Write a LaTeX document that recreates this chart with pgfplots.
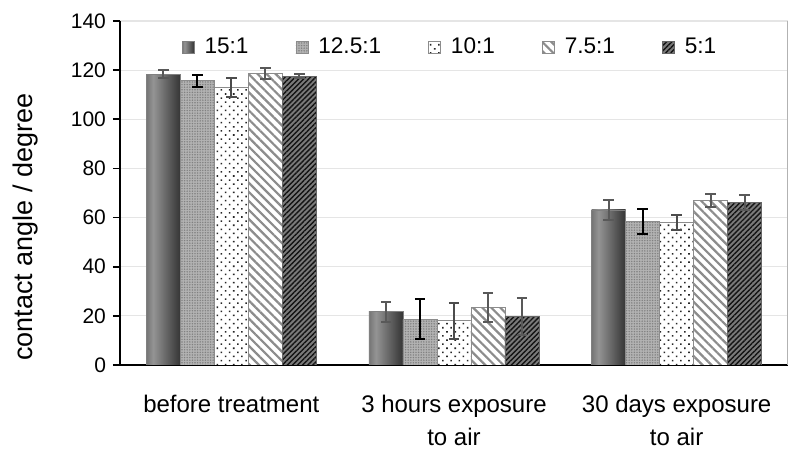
\documentclass[border=0pt]{standalone}
\usepackage{fontspec}
\setmainfont{Liberation Sans}
\usepackage{pgfplots}
\pgfplotsset{compat=1.18}
\usetikzlibrary{patterns.meta}
\pgfdeclarehorizontalshading{barshade}{100bp}{color(0bp)=(black!80); color(12bp)=(black!70); color(35bp)=(black!42); color(70bp)=(black!75); color(88bp)=(black!88); color(100bp)=(black!70)}
\pgfplotsset{
  eb/.style={error bars/y dir=both, error bars/y explicit,
    error bars/error bar style={line width=1pt, draw=#1},
    error bars/error mark options={rotate=90, mark size=2.6pt, line width=1pt, draw=#1}},
  s1/.style={draw=black!50, line width=0.4pt, shade, shading=barshade, eb=black!65, bar shift=-34pt},
}
\begin{document}
\begin{tikzpicture}
\path[use as bounding box] (0,0) rectangle (400pt,229.5pt);
\begin{axis}[
  at={(60pt,47pt)}, anchor=south west,
  scale only axis, width=334pt, height=172pt,
  ybar=0pt, bar width=17pt,
  xmin=-0.5, xmax=2.5, ymin=0, ymax=140,
  axis x line*=bottom, axis y line*=left,
  axis line style={-, line width=0.8pt, black},
  xtick={0,1,2},
  xticklabels={before treatment, {3 hours exposure\\to air}, {30 days exposure\\to air}},
  major x tick style={draw=none},
  extra x ticks={-0.5,0.5,1.5,2.5},
  extra x tick labels={},
  extra x tick style={major tick length=4pt, tick style={draw=black, line width=0.8pt}, grid=none},
  ytick={0,20,...,140},
  tick align=outside,
  major tick length=3.5pt,
  tick style={black, line width=0.8pt},
  ymajorgrids, grid style={black!10, line width=0.6pt},
  /pgf/number format/assume math mode=true,
  yticklabel style={font=\fontsize{10.5}{12}\selectfont},
  xticklabel style={font=\fontsize{12}{16.5}\selectfont, align=center, yshift=-8pt},
  ylabel={contact angle / degree},
  ylabel style={font=\fontsize{13.5}{16}\selectfont, at={(axis description cs:-0.142,0.40)}, anchor=center},
  legend columns=5,
  legend style={at={(0.5,0.924)}, anchor=center, draw=none, fill=none,
    font=\fontsize{11.3}{13}\selectfont,
    nodes={inner xsep=5pt},
    /tikz/every even column/.append style={column sep=18.5pt}},
  legend image code/.code={\draw[#1] (0pt,-3pt) rectangle (6pt,3pt);},
]
\addplot[s1] coordinates {(0,118.4) +- (0,1.5)};
\addlegendentry{15:1}
\addplot[s1, forget plot] coordinates {(1,21.7) +- (0,4.1)};
\addplot[s1, forget plot] coordinates {(2,63.1) +- (0,3.9)};
\addplot[draw=black!45, line width=0.4pt, preaction={fill=black!30}, bar shift=-17pt,
  pattern={Dots[distance=1.3pt,radius=0.4pt]}, pattern color=black!50, eb=black]
  coordinates {(0,115.7) +- (0,2.5) (1,18.6) +- (0,8.2) (2,58.3) +- (0,5.1)};
\addlegendentry{12.5:1}
\addplot[draw=black!45, line width=0.4pt, preaction={fill=white}, bar shift=0pt,
  pattern={Dots[angle=45,distance=2.9pt,radius=0.55pt]}, pattern color=black!85, eb=black!70]
  coordinates {(0,112.9) +- (0,3.9) (1,18.0) +- (0,7.4) (2,58.0) +- (0,3.0)};
\addlegendentry{10:1}
\addplot[draw=black!45, line width=0.4pt, preaction={fill=white}, bar shift=17pt,
  pattern={Lines[angle=-45,distance=3.2pt,line width=1.1pt]}, pattern color=black!45, eb=black!65]
  coordinates {(0,118.5) +- (0,2.2) (1,23.3) +- (0,5.8) (2,66.9) +- (0,2.6)};
\addlegendentry{7.5:1}
\addplot[draw=black!60, line width=0.4pt, preaction={fill=black!52}, bar shift=34pt,
  pattern={Lines[angle=45,distance=1.8pt,line width=0.7pt]}, pattern color=black!92, eb=black!65]
  coordinates {(0,117.6) +- (0,0.8) (1,19.7) +- (0,7.6) (2,66.1) +- (0,3.0)};
\addlegendentry{5:1}
\draw[black!30, line width=0.6pt] (rel axis cs:1,0) -- (rel axis cs:1,1);
\end{axis}
\end{tikzpicture}
\end{document}
